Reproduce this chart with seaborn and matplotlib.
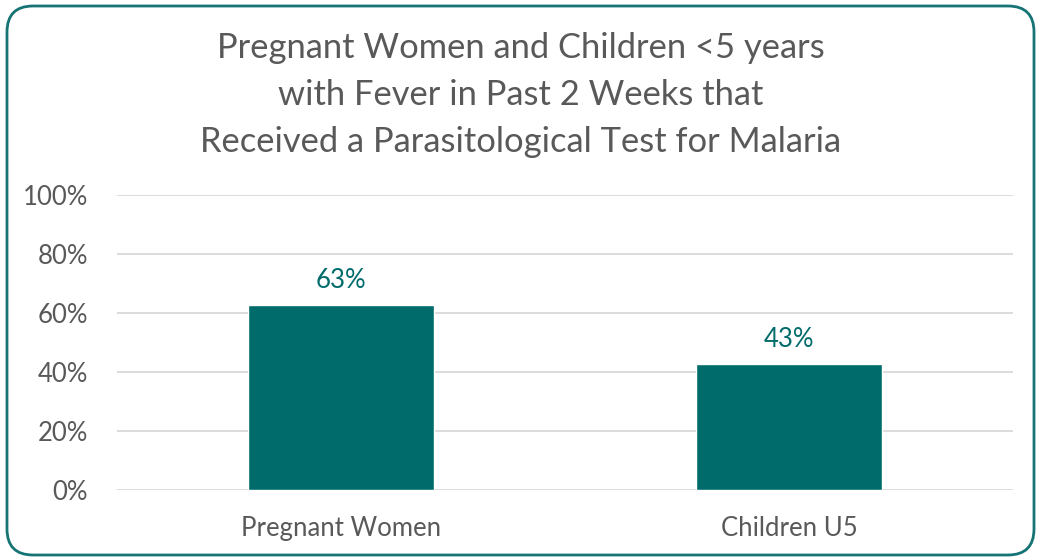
import matplotlib
matplotlib.use("Agg")
import matplotlib.pyplot as plt
import seaborn as sns
import pandas as pd
from matplotlib.patches import FancyBboxPatch
from matplotlib.ticker import PercentFormatter

categories = ["Pregnant Women", "Children U5"]
values = [0.627, 0.428]
yticks = [0, 0.2, 0.4, 0.6, 0.8, 1.0]
title = "Pregnant Women and Children <5 years\nwith Fever in Past 2 Weeks that\nReceived a Parasitological Test for Malaria"

sns.set_theme(style="white")
plt.rcParams['font.family'] = ['Lato', 'DejaVu Sans']

TEAL = "#006B6B"
GRAY = "#595959"

fig = plt.figure(figsize=(10.42, 5.6), dpi=100)
ax = fig.add_axes([117/1042, 1-490/560, (1013-117)/1042, (490-195)/560])

df = pd.DataFrame({"cat": categories, "val": values})
sns.barplot(data=df, x="cat", y="val", color=TEAL, saturation=1, width=0.415, ax=ax)

ax.set_ylim(0, 1.0)
ax.set_xlim(-0.5, 1.5)
ax.set_yticks(yticks)
ax.yaxis.set_major_formatter(PercentFormatter(1.0, decimals=0))
ax.grid(axis="y", color="#D9D9D9", linewidth=1.3)
ax.set_axisbelow(True)
for s in ax.spines.values():
    s.set_visible(False)
ax.set_xlabel("")
ax.set_ylabel("")
ax.tick_params(axis="y", length=0, pad=21, labelsize=18.5, labelcolor=GRAY)
ax.tick_params(axis="x", length=0, pad=19, labelsize=18.5, labelcolor=GRAY)

for i, v in enumerate(values):
    ax.text(i, v + 0.04, f"{round(v*100):.0f}%", ha="center", va="bottom",
            fontsize=18.5, color=TEAL)

fig.text(0.5, 1-95/560, title, ha="center", va="center", fontsize=24.8,
         color=GRAY, linespacing=1.57)

border = FancyBboxPatch((7/1042, 5/560), (1034-7)/1042, (554-5)/560,
                        boxstyle="round,pad=0,rounding_size=0.025",
                        transform=fig.transFigure, fill=False,
                        edgecolor="#167474", linewidth=2, mutation_aspect=1042/560)
fig.patches.append(border)

fig.savefig("out.png", dpi=100)
